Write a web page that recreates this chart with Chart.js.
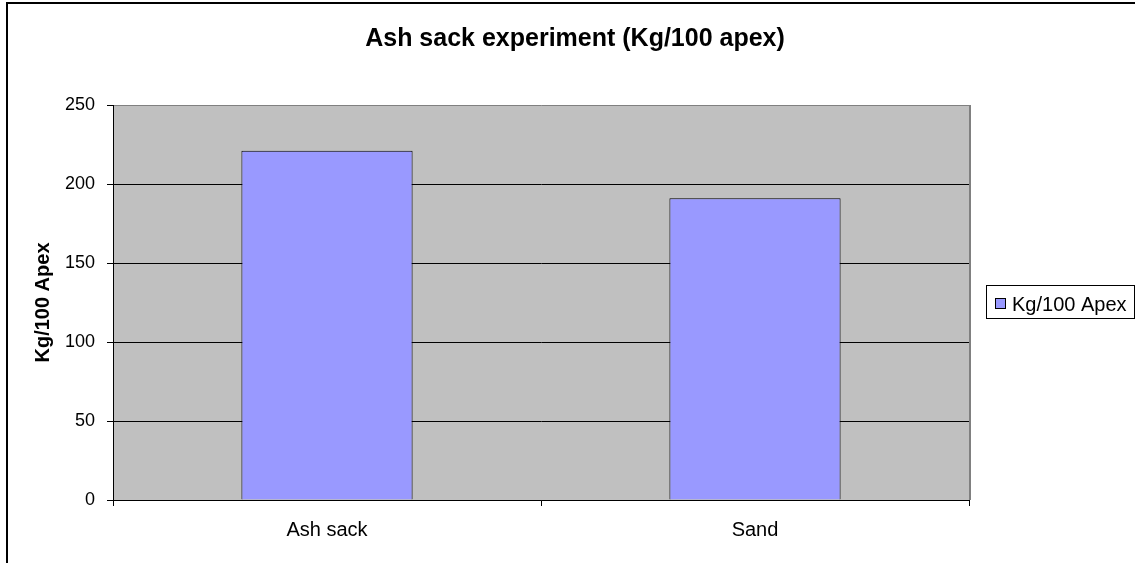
<!DOCTYPE html>
<html>
<head>
<meta charset="utf-8">
<script src="https://cdn.jsdelivr.net/npm/chart.js@4"></script>
<style>
  html, body { margin: 0; padding: 0; background: #fff; overflow: hidden; }
  #wrap { position: absolute; left: 0; top: 0; width: 1150px; height: 600px; }
</style>
</head>
<body>
<div id="wrap"><canvas id="myChart" width="1150" height="600"></canvas></div>
<script>
// データ
const categories = ['Ash sack', 'Sand'];
const values = [221, 191];
const seriesName = 'Kg/100 Apex';
const yTicks = [0, 50, 100, 150, 200, 250];
const chartTitle = 'Ash sack experiment (Kg/100 apex)';

const FONT = "'Liberation Sans', Arial, sans-serif";

// 外枠・プロットエリア背景・凡例
const excelLook = {
    id: 'excelLook',
    beforeDraw(chart) {
        const ctx = chart.ctx;
        const a = chart.chartArea;
        ctx.save();
        ctx.fillStyle = '#fff';
        ctx.fillRect(0, 0, chart.width, chart.height);
        // 外枠
        ctx.strokeStyle = '#000';
        ctx.lineWidth = 2;
        ctx.strokeRect(7, 3, 1136, 594);
        // プロットエリア
        ctx.fillStyle = '#C0C0C0';
        ctx.fillRect(a.left, a.top, a.right - a.left, a.bottom - a.top);
        ctx.restore();
    },
    beforeDatasetsDraw(chart) {
        const ctx = chart.ctx;
        const a = chart.chartArea;
        ctx.save();
        ctx.strokeStyle = '#808080';
        ctx.lineWidth = 2;
        ctx.beginPath();
        ctx.moveTo(a.right + 1, a.top);
        ctx.lineTo(a.right + 1, a.bottom);
        ctx.stroke();
        ctx.restore();
    },
    afterDraw(chart) {
        const ctx = chart.ctx;
        const ds = chart.data.datasets[0];
        ctx.save();
        // 凡例の枠
        ctx.strokeStyle = '#000';
        ctx.lineWidth = 1;
        ctx.fillStyle = '#fff';
        ctx.fillRect(986, 285, 150, 34);
        ctx.strokeRect(986.5, 285.5, 148, 33);
        // 色の四角
        ctx.fillStyle = ds.backgroundColor;
        ctx.fillRect(995, 298, 10, 10);
        ctx.strokeRect(995.5, 298.5, 10, 10);
        ctx.fillStyle = '#000';
        ctx.font = '20px ' + FONT;
        ctx.textBaseline = 'alphabetic';
        ctx.fillText(ds.label, 1012, 311);
        ctx.restore();
    }
};

const elem = document.getElementById('myChart');
const chart = new Chart(elem, {
    type: 'bar',
    data: {
        labels: categories,
        datasets: [{
            label: seriesName,
            data: values,
            backgroundColor: '#9999FF',
            borderColor: '#000',
            borderWidth: 1,
            barPercentage: 0.4,
            categoryPercentage: 1.0
        }]
    },
    options: {
        responsive: false,
        animation: false,
        devicePixelRatio: 1,
        layout: { padding: { left: 20, right: 20, top: 0, bottom: 37 } },
        plugins: {
            legend: { display: false },
            tooltip: { enabled: false },
            title: {
                display: true,
                text: chartTitle,
                color: '#000',
                font: { family: FONT, size: 25, weight: 'bold', lineHeight: 1.2 },
                padding: { top: 24.6, bottom: 50.4 }
            }
        },
        scales: {
            x: {
                afterFit(scale) { scale.height = 63; },
                grid: {
                    drawOnChartArea: false,
                    color: '#000',
                    tickColor: '#000',
                    tickLength: 6
                },
                border: { color: '#000', width: 1 },
                ticks: {
                    color: '#000',
                    padding: 12.8,
                    font: { family: FONT, size: 20 }
                }
            },
            y: {
                min: 0,
                max: 250,
                afterBuildTicks(scale) {
                    scale.ticks = yTicks.map(v => ({ value: v }));
                },
                afterFit(scale) { scale.width = 93; },
                grid: {
                    color: (c) => (c.tick && c.tick.value === 250) ? '#808080' : '#000',
                    tickColor: '#000',
                    tickLength: 6
                },
                border: { color: '#000', width: 1 },
                ticks: {
                    color: '#000',
                    padding: 12,
                    font: { family: FONT, size: 18 }
                },
                title: {
                    display: true,
                    text: seriesName,
                    color: '#000',
                    font: { family: FONT, size: 20, weight: 'bold' },
                    padding: { top: 11.5, bottom: 0 }
                }
            },
            // 凡例用の右側スペース
            yRight: {
                position: 'right',
                display: true,
                afterFit(scale) { scale.width = 161; },
                grid: { display: false },
                border: { display: false },
                ticks: { display: false }
            }
        }
    },
    plugins: [excelLook]
});
</script>
</body>
</html>
